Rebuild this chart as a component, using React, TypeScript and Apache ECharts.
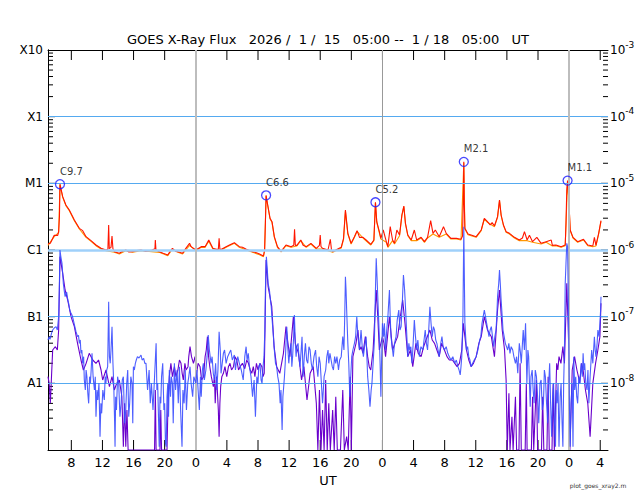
import React, { useEffect, useRef } from "react";
import * as echarts from "echarts";

// Hours since 2026-01-15 05:00 UT, value = log10(flux W/m^2)
const TITLE = "GOES X-Ray Flux   2026 /  1 /  15   05:00 --  1 / 18   05:00   UT";
const SPAN_HOURS = 72;

const xTickHours = [3, 7, 11, 15, 19, 23, 27, 31, 35, 39, 43, 47, 51, 55, 59, 63, 67, 71];
const xTickLabels = ["8", "12", "16", "20", "0", "4", "8", "12", "16", "20", "0", "4", "8", "12", "16", "20", "0", "4"];
const dayStartHours = [19, 43, 67];

const yDecades = [-9, -8, -7, -6, -5, -4, -3];
const yClassLabels = ["", "A1", "B1", "C1", "M1", "X1", "X10"];

const flareHours = [1.54, 28.04, 42.1, 53.46, 66.8];
const flareLog = [-5.013, -5.18, -5.284, -4.678, -4.959];
const flareNames = ["C9.7", "C6.6", "C5.2", "M2.1", "M1.1"];

// long channel (1-8 A), primary (red)
const longPrimary: [number, number][] = [
  [0, -5.91], [0.3, -5.9], [0.8, -5.78], [1.25, -5.78], [1.37, -5.72], [1.47, -5.5], [1.54, -5.013], [1.89, -5.2],
  [2.3, -5.325], [2.74, -5.4], [3.05, -5.47], [3.39, -5.55], [4.03, -5.675], [4.46, -5.71], [4.89, -5.8], [5.53, -5.86],
  [6.17, -5.925], [6.82, -5.975], [7.46, -6.0], [7.7, -5.99], [7.8, -5.625], [7.88, -5.98], [8.1, -5.96], [8.23, -5.79],
  [8.35, -5.98], [8.53, -6.025], [9.17, -6.05], [9.6, -6.02], [10.0, -6.0], [10.4, -6.03], [10.9, -6.025], [11.4, -6.01],
  [11.96, -6.0], [12.5, -6.02], [13.0, -6.01], [13.4, -6.0], [13.75, -5.98], [13.8, -5.85], [13.88, -6.0], [14.3, -6.025],
  [14.8, -6.05], [15.4, -6.075], [15.7, -6.02], [16.0, -5.975], [16.4, -6.02], [16.7, -6.025], [17.3, -6.05], [17.7, -5.98],
  [18.2, -5.9], [18.4, -5.95], [19.0, -6.0], [19.7, -5.95], [20.2, -5.95], [20.67, -5.85], [21.2, -5.975], [21.6, -5.99],
  [21.9, -5.99], [22.0, -5.825], [22.1, -5.99], [22.3, -5.99], [22.9, -5.95], [23.4, -5.92], [23.96, -5.89], [24.6, -5.95],
  [25.0, -5.96], [25.5, -5.99], [26.3, -6.025], [26.8, -6.04], [27.2, -6.06], [27.7, -6.09], [27.85, -6.0], [27.95, -5.6],
  [28.04, -5.18], [28.25, -5.325], [28.55, -5.525], [28.8, -5.575], [29.1, -5.8], [29.5, -5.95], [29.97, -6.02], [30.3, -5.97],
  [30.6, -5.925], [31.25, -5.95], [31.6, -5.93], [31.7, -5.69], [31.8, -5.93], [32.0, -5.93], [32.5, -5.85], [32.8, -5.93],
  [33.2, -5.95], [33.8, -5.9], [34.5, -5.975], [34.9, -5.93], [35.0, -5.775], [35.1, -5.95], [35.3, -5.975], [36.0, -6.0],
  [36.3, -5.84], [36.45, -6.0], [36.6, -6.025], [37.0, -6.0], [37.7, -5.96], [38.0, -5.825], [38.24, -5.4], [38.55, -5.75],
  [38.97, -5.9], [39.4, -5.8], [39.74, -5.71], [40.05, -5.81], [40.5, -5.81], [40.9, -5.85], [41.5, -5.915], [41.9, -5.85],
  [42.1, -5.284], [42.27, -5.575], [42.6, -5.725], [42.8, -5.825], [43.1, -5.7], [43.5, -5.875], [43.7, -5.95], [44.0, -5.65],
  [44.3, -5.85], [44.55, -5.9], [44.85, -5.7], [45.2, -5.775], [45.5, -5.475], [45.75, -5.34], [45.96, -5.6], [46.26, -5.775],
  [46.7, -5.85], [47.1, -5.7], [47.4, -5.85], [47.97, -5.81], [48.4, -5.875], [48.8, -5.81], [49.2, -5.56], [49.5, -5.75],
  [49.8, -5.7], [50.3, -5.8], [50.85, -5.65], [51.2, -5.75], [51.8, -5.825], [52.5, -5.825], [53.1, -5.84], [53.3, -5.79],
  [53.4, -5.2], [53.46, -4.678], [53.52, -5.3], [53.6, -5.675], [54.0, -5.76], [54.4, -5.775], [55.05, -5.8], [55.7, -5.7],
  [56.1, -5.525], [56.5, -5.575], [56.85, -5.625], [57.1, -5.59], [57.4, -5.64], [57.8, -5.5], [58.05, -5.25], [58.26, -5.475],
  [58.56, -5.625], [58.9, -5.725], [59.33, -5.75], [59.97, -5.81], [60.6, -5.85], [61.0, -5.82], [61.26, -5.725], [61.6, -5.85],
  [61.9, -5.78], [62.3, -5.875], [62.85, -5.81], [63.4, -5.9], [64.05, -5.875], [64.7, -5.85], [64.85, -5.93], [65.3, -5.925],
  [65.97, -5.95], [66.5, -5.925], [66.6, -5.6], [66.7, -5.1], [66.8, -4.959], [66.97, -5.25], [67.14, -5.7], [67.5, -5.81],
  [68.1, -5.875], [68.85, -5.84], [69.4, -5.925], [70.05, -5.94], [70.25, -5.81], [70.45, -5.93], [70.8, -5.75], [71.1, -5.56],
];

// long channel, secondary (orange)
const longSecondary: [number, number][] = [
  [0, -5.93], [0.8, -5.8], [1.37, -5.74], [1.54, -5.02], [1.89, -5.21], [2.3, -5.335], [2.74, -5.41], [3.39, -5.56],
  [4.03, -5.685], [4.89, -5.81], [5.53, -5.87], [6.17, -5.935], [6.82, -5.985], [7.46, -6.01], [8.53, -6.035], [9.17, -6.06],
  [10.0, -6.01], [10.9, -6.035], [11.96, -6.01], [13.0, -6.02], [14.3, -6.035], [15.4, -6.085], [16.0, -5.985], [16.7, -6.035],
  [17.3, -6.06], [18.2, -5.93], [19.0, -6.01], [19.7, -5.96], [20.2, -5.96], [20.67, -5.87], [21.2, -5.985], [22.3, -6.0],
  [22.9, -5.96], [23.96, -5.9], [24.6, -5.96], [25.5, -6.0], [26.3, -6.035], [27.2, -6.07], [27.7, -6.1], [27.85, -6.01],
  [28.04, -5.19], [28.25, -5.335], [28.55, -5.535], [28.8, -5.585], [29.1, -5.81], [29.5, -5.96], [29.97, -6.03], [30.6, -5.935],
  [31.25, -5.96], [32.0, -5.94], [32.5, -5.86], [33.2, -5.96], [33.8, -5.91], [34.5, -5.985], [35.3, -5.985], [36.0, -6.01],
  [36.6, -6.035], [37.0, -6.01], [37.7, -5.97], [38.0, -5.84], [38.24, -5.42], [38.55, -5.76], [38.97, -5.91], [39.4, -5.81],
  [39.74, -5.72], [40.5, -5.82], [41.5, -5.925], [41.9, -5.86], [42.1, -5.29], [42.27, -5.585], [42.8, -5.835], [43.5, -5.885],
  [43.7, -5.96], [44.3, -5.86], [44.55, -5.91], [45.2, -5.785], [45.5, -5.485], [45.75, -5.35], [45.96, -5.61], [46.26, -5.785],
  [46.7, -5.86], [47.4, -5.86], [47.97, -5.82], [48.4, -5.885], [48.8, -5.82], [49.5, -5.76], [50.3, -5.81], [51.2, -5.76],
  [51.8, -5.835], [52.5, -5.835], [53.1, -5.85], [53.46, -4.69], [53.6, -5.685], [54.0, -5.77], [54.4, -5.785], [55.05, -5.81],
  [55.7, -5.71], [56.1, -5.535], [56.5, -5.585], [57.4, -5.65], [57.8, -5.51], [58.05, -5.26], [58.26, -5.485], [58.56, -5.635],
  [58.9, -5.735], [59.33, -5.76], [59.97, -5.82], [60.6, -5.86], [61.6, -5.86], [62.3, -5.885], [63.4, -5.91], [64.05, -5.885],
  [64.85, -5.94], [65.3, -5.935], [65.97, -5.96], [66.5, -5.935], [66.8, -4.97], [66.97, -5.26], [67.14, -5.71], [67.5, -5.82],
  [68.1, -5.885], [68.85, -5.85], [69.4, -5.935], [70.05, -5.95], [70.45, -5.94], [70.8, -5.76], [71.1, -5.57],
];

// short channel (0.5-4 A), primary (blue)
const shortPrimary: [number, number][] = [
  [0, -7.35], [0.15, -7.3], [0.26, -7.34], [0.45, -7.25], [0.6, -7.2], [0.8, -7.17], [1.03, -7.15], [1.2, -7.2],
  [1.37, -7.0], [1.45, -6.6], [1.54, -6.0], [1.65, -6.1], [1.8, -6.2], [1.97, -6.5], [2.1, -6.62], [2.2, -6.7],
  [2.4, -6.63], [2.55, -6.75], [2.66, -6.8], [2.8, -6.9], [2.96, -6.95], [3.1, -6.98], [3.26, -7.05], [3.45, -7.15],
  [3.6, -7.225], [3.8, -7.3], [3.92, -7.28], [4.03, -7.4], [4.15, -7.35], [4.24, -7.55], [4.35, -7.5], [4.46, -7.7],
  [4.58, -7.6], [4.67, -7.95], [4.8, -8.1], [4.9, -7.8], [5.0, -7.9], [5.12, -8.15], [5.23, -8.3], [5.35, -7.9],
  [5.45, -8.0], [5.55, -7.8], [5.66, -7.55], [5.8, -7.9], [5.97, -8.1], [6.08, -7.9], [6.17, -8.5], [6.3, -8.1],
  [6.4, -8.25], [6.55, -8.0], [6.69, -8.8], [6.8, -8.3], [6.9, -8.45], [7.05, -8.1], [7.24, -8.25], [7.35, -7.9],
  [7.45, -8.0], [7.55, -7.8], [7.67, -7.75], [7.8, -6.775], [7.9, -7.6], [8.0, -7.7], [8.1, -7.5], [8.23, -7.15],
  [8.35, -7.7], [8.45, -8.0], [8.55, -8.5], [8.62, -8.95], [8.7, -8.2], [8.8, -8.4], [8.95, -7.9], [9.09, -8.0],
  [9.25, -8.5], [9.4, -8.3], [9.55, -7.95], [9.69, -7.9], [9.85, -8.6], [10.0, -8.4], [10.12, -8.0], [10.25, -7.8],
  [10.38, -8.5], [10.5, -8.3], [10.65, -7.9], [10.8, -8.0], [10.9, -8.6], [10.98, -7.75], [11.1, -7.8], [11.23, -7.7],
  [11.35, -7.65], [11.5, -7.6], [11.7, -7.62], [11.96, -7.575], [12.1, -7.65], [12.3, -7.625], [12.45, -7.7], [12.6, -7.7],
  [12.8, -8.1], [13.0, -7.8], [13.15, -8.3], [13.3, -8.0], [13.5, -8.4], [13.7, -7.9], [13.9, -7.4], [14.0, -8.1],
  [14.1, -8.0], [14.3, -8.95], [14.4, -8.2], [14.5, -8.3], [14.6, -7.9], [14.75, -7.7], [14.9, -8.4], [15.0, -8.3],
  [15.1, -8.9], [15.2, -8.95], [15.3, -8.2], [15.4, -8.0], [15.5, -8.5], [15.6, -7.8], [15.75, -8.2], [15.85, -7.9],
  [16.0, -8.0], [16.1, -8.6], [16.25, -7.7], [16.4, -8.1], [16.6, -7.8], [16.75, -8.3], [16.9, -7.75], [17.05, -8.4],
  [17.23, -8.95], [17.35, -8.1], [17.5, -8.3], [17.65, -7.8], [17.8, -8.4], [17.97, -8.0], [18.1, -7.9], [18.26, -7.75],
  [18.4, -8.0], [18.6, -8.2], [18.75, -7.9], [19.0, -8.0], [19.15, -7.8], [19.3, -8.1], [19.46, -8.4], [19.6, -7.9],
  [19.7, -8.2], [19.85, -7.8], [19.97, -7.7], [20.1, -7.95], [20.3, -7.8], [20.45, -7.6], [20.6, -7.275], [20.75, -7.5],
  [20.96, -7.7], [21.1, -7.6], [21.25, -7.85], [21.4, -7.95], [21.55, -7.7], [21.7, -8.1], [21.85, -7.8], [22.0, -7.225],
  [22.15, -7.5], [22.25, -7.85], [22.4, -7.7], [22.55, -7.55], [22.7, -7.5], [22.9, -7.7], [23.1, -7.6], [23.3, -7.55],
  [23.5, -7.5], [23.7, -7.65], [23.96, -7.575], [24.1, -7.8], [24.2, -7.7], [24.4, -7.6], [24.6, -7.7], [24.85, -7.8],
  [25.1, -7.95], [25.3, -7.6], [25.47, -7.45], [25.6, -7.65], [25.75, -7.55], [25.9, -7.75], [26.1, -7.9], [26.3, -8.2],
  [26.5, -7.95], [26.67, -8.5], [26.85, -7.9], [27.0, -8.0], [27.1, -7.75], [27.25, -7.7], [27.4, -7.95], [27.52, -8.0],
  [27.65, -7.75], [27.77, -7.6], [27.88, -7.2], [27.95, -6.6], [28.08, -6.1], [28.2, -6.3], [28.3, -6.5], [28.47, -6.6],
  [28.6, -6.75], [28.7, -6.85], [28.85, -7.1], [28.98, -7.3], [29.1, -7.5], [29.25, -7.7], [29.4, -7.75], [29.54, -7.9],
  [29.7, -8.0], [29.85, -8.3], [29.95, -8.1], [30.1, -8.7], [30.2, -8.2], [30.27, -8.1], [30.4, -7.9], [30.5, -7.7],
  [30.6, -7.4], [30.7, -7.15], [30.85, -7.5], [30.96, -7.7], [31.1, -7.5], [31.25, -7.4], [31.35, -7.75], [31.45, -7.6],
  [31.58, -7.3], [31.68, -6.975], [31.8, -7.4], [31.9, -7.6], [32.0, -7.45], [32.15, -7.4], [32.3, -7.65], [32.4, -7.75],
  [32.55, -7.5], [32.66, -7.3], [32.8, -7.9], [32.95, -7.6], [33.1, -7.4], [33.25, -7.65], [33.4, -7.7], [33.55, -7.45],
  [33.7, -7.5], [33.85, -7.7], [34.0, -7.8], [34.2, -7.6], [34.4, -7.5], [34.55, -7.75], [34.7, -7.9], [34.85, -7.6],
  [35.0, -7.7], [35.15, -8.0], [35.3, -8.3], [35.5, -7.9], [35.7, -7.8], [35.85, -7.6], [36.0, -7.5], [36.1, -7.7],
  [36.25, -7.55], [36.4, -7.65], [36.55, -7.75], [36.7, -7.8], [36.85, -7.6], [37.0, -7.7], [37.15, -7.6], [37.35, -7.8],
  [37.5, -7.65], [37.7, -7.6], [37.8, -7.45], [37.9, -7.3], [38.05, -7.5], [38.15, -7.0], [38.24, -6.4], [38.32, -6.6],
  [38.4, -6.9], [38.55, -7.4], [38.67, -7.7], [38.8, -8.2], [38.92, -7.9], [39.05, -7.6], [39.2, -7.5], [39.4, -7.4],
  [39.55, -7.3], [39.7, -7.0], [39.85, -7.3], [40.05, -7.5], [40.15, -7.35], [40.25, -7.2], [40.4, -7.45], [40.55, -7.6],
  [40.7, -7.45], [40.9, -7.3], [41.0, -7.6], [41.1, -7.9], [41.25, -8.1], [41.4, -8.35], [41.55, -8.1], [41.65, -8.0],
  [41.8, -7.7], [41.97, -7.35], [42.1, -6.6], [42.2, -6.125], [42.3, -6.4], [42.4, -6.7], [42.5, -7.0], [42.6, -7.3],
  [42.7, -7.7], [42.8, -8.2], [42.9, -7.6], [43.0, -7.1], [43.15, -7.3], [43.25, -7.1], [43.4, -7.5], [43.55, -7.2],
  [43.7, -7.0], [43.8, -6.8], [43.9, -6.6], [44.0, -7.0], [44.1, -7.3], [44.25, -7.45], [44.4, -7.6], [44.55, -7.4],
  [44.75, -7.3], [44.9, -7.05], [45.1, -6.9], [45.25, -7.2], [45.4, -7.15], [45.55, -6.8], [45.7, -6.375], [45.85, -6.6],
  [45.96, -6.85], [46.1, -7.2], [46.26, -7.6], [46.4, -7.4], [46.5, -7.5], [46.65, -7.45], [46.8, -7.7], [46.95, -7.4],
  [47.1, -7.05], [47.25, -7.3], [47.4, -7.5], [47.55, -7.35], [47.75, -7.6], [47.95, -7.45], [48.2, -7.5], [48.35, -7.35],
  [48.5, -7.2], [48.65, -7.4], [48.8, -7.5], [48.95, -7.2], [49.1, -6.85], [49.25, -7.1], [49.4, -7.3], [49.55, -7.15],
  [49.7, -7.2], [49.85, -7.35], [50.0, -7.4], [50.15, -7.5], [50.3, -7.6], [50.5, -7.4], [50.65, -7.3], [50.8, -7.45],
  [50.97, -7.5], [51.2, -7.45], [51.4, -7.55], [51.6, -7.6], [51.8, -7.65], [52.05, -7.6], [52.3, -7.7], [52.5, -7.65],
  [52.7, -7.75], [52.85, -7.8], [53.0, -7.875], [53.1, -7.75], [53.2, -7.6], [53.35, -7.0], [53.46, -5.65], [53.55, -6.6],
  [53.6, -7.1], [53.7, -7.3], [53.8, -7.5], [53.95, -7.45], [54.1, -7.6], [54.25, -7.65], [54.4, -7.75], [54.6, -7.7],
  [54.8, -7.65], [55.05, -7.6], [55.27, -7.5], [55.5, -7.35], [55.65, -7.3], [55.8, -7.1], [55.95, -7.0], [56.1, -6.9],
  [56.25, -7.0], [56.4, -7.1], [56.55, -7.2], [56.7, -7.3], [56.85, -7.2], [57.0, -7.15], [57.15, -7.3], [57.3, -7.45],
  [57.45, -7.3], [57.6, -7.2], [57.7, -7.0], [57.8, -6.7], [57.95, -6.5], [58.05, -6.3], [58.15, -6.5], [58.26, -6.75],
  [58.4, -7.0], [58.5, -7.2], [58.65, -7.3], [58.8, -7.4], [58.95, -7.45], [59.1, -7.5], [59.25, -7.4], [59.4, -7.55],
  [59.55, -7.45], [59.75, -7.5], [59.9, -7.6], [60.1, -7.7], [60.25, -7.6], [60.4, -7.85], [60.5, -7.6], [60.6, -7.4],
  [60.75, -7.55], [60.85, -7.7], [61.0, -7.4], [61.1, -7.2], [61.25, -7.5], [61.4, -7.1], [61.5, -7.6], [61.57, -8.0],
  [61.7, -7.5], [61.8, -7.6], [61.9, -8.0], [62.0, -8.35], [62.1, -7.9], [62.25, -7.8], [62.38, -8.1], [62.5, -8.3],
  [62.65, -7.8], [62.8, -7.9], [62.95, -8.2], [63.1, -8.6], [63.25, -8.0], [63.4, -7.95], [63.55, -8.4], [63.7, -8.3],
  [63.82, -7.8], [63.95, -7.9], [64.1, -8.3], [64.25, -8.6], [64.38, -8.0], [64.5, -7.7], [64.62, -8.3], [64.75, -8.8],
  [64.88, -8.2], [65.0, -8.0], [65.12, -8.6], [65.25, -8.95], [65.35, -8.1], [65.45, -8.3], [65.58, -8.0], [65.7, -8.95],
  [65.85, -8.2], [65.97, -8.0], [66.1, -8.6], [66.2, -8.95], [66.3, -8.0], [66.4, -7.5], [66.5, -6.5], [66.6, -6.2],
  [66.7, -5.9], [66.8, -5.95], [66.88, -6.6], [66.97, -7.5], [67.05, -8.4], [67.14, -8.95], [67.25, -8.3], [67.4, -8.0],
  [67.5, -8.95], [67.6, -7.6], [67.72, -8.1], [67.85, -7.9], [67.98, -8.2], [68.1, -8.3], [68.25, -7.9], [68.4, -8.0],
  [68.55, -7.7], [68.7, -7.9], [68.8, -7.55], [68.9, -7.8], [69.0, -7.7], [69.15, -8.0], [69.3, -8.1], [69.42, -7.8],
  [69.54, -8.3], [69.7, -7.9], [69.9, -7.5], [70.05, -7.7], [70.25, -7.3], [70.35, -7.5], [70.45, -7.6], [70.6, -7.4],
  [70.7, -7.2], [70.85, -7.3], [70.96, -7.1], [71.05, -6.9], [71.1, -6.7],
];

// short channel, secondary (purple)
const shortSecondary: [number, number][] = [
  [0, -7.9], [0.15, -8.0], [0.3, -8.3], [0.6, -7.5], [0.95, -7.45], [1.2, -7.5], [1.37, -7.2], [1.54, -6.1],
  [1.89, -6.35], [2.2, -6.6], [2.53, -6.75], [2.96, -7.0], [3.39, -7.15], [3.8, -7.4], [4.24, -7.65], [4.55, -7.8],
  [4.9, -7.7], [5.3, -7.55], [5.75, -7.65], [6.17, -7.7], [6.5, -7.65], [6.82, -7.8], [7.03, -7.95], [7.46, -7.8],
  [7.9, -8.05], [8.23, -7.9], [8.53, -8.1], [8.83, -8.0], [9.17, -7.95], [9.5, -8.2], [9.69, -8.95], [9.85, -8.3],
  [10.0, -8.95], [10.15, -8.4], [10.3, -9.0], [13.7, -9.0], [13.8, -8.1], [13.9, -9.0], [14.4, -9.0], [14.5, -8.4],
  [14.6, -9.0], [15.3, -9.0], [15.45, -8.2], [15.6, -7.9], [15.8, -7.7], [16.0, -7.9], [16.25, -7.75], [16.45, -7.9],
  [16.7, -7.8], [16.9, -7.65], [17.1, -7.7], [17.25, -7.85], [17.4, -7.95], [17.6, -7.7], [17.75, -7.8], [18.0, -7.75],
  [18.1, -7.6], [18.26, -7.45], [18.45, -7.6], [18.7, -7.7], [18.9, -7.6], [19.1, -7.85], [19.3, -7.7], [19.55, -7.75],
  [19.75, -7.95], [20.0, -7.9], [20.2, -7.6], [20.35, -7.5], [20.5, -7.3], [20.65, -7.6], [20.8, -7.75], [21.0, -7.9],
  [21.26, -8.05], [21.4, -7.9], [21.5, -8.3], [21.65, -7.9], [21.75, -8.05], [21.9, -8.4], [22.0, -8.8], [22.1, -8.3],
  [22.2, -8.05], [22.35, -7.9], [22.55, -7.85], [22.75, -7.75], [22.98, -7.9], [23.2, -7.75], [23.4, -7.7], [23.6, -7.8],
  [23.85, -7.75], [24.05, -7.6], [24.27, -7.65], [24.5, -7.8], [24.7, -7.75], [25.0, -7.7], [25.3, -7.78], [25.55, -7.65],
  [25.77, -7.7], [26.0, -7.8], [26.2, -7.85], [26.4, -7.75], [26.6, -7.9], [26.8, -7.7], [27.0, -7.8], [27.25, -7.7],
  [27.5, -7.75], [27.65, -7.9], [27.8, -7.85], [27.9, -7.2], [28.04, -6.15], [28.3, -6.55], [28.77, -6.85], [29.07, -7.45],
  [29.4, -7.75], [29.8, -7.85], [30.27, -7.55], [30.6, -7.15], [30.85, -7.4], [31.1, -7.6], [31.55, -7.0], [31.8, -7.4],
  [32.2, -7.55], [32.6, -7.95], [32.9, -7.75], [33.3, -8.25], [33.7, -7.85], [34.1, -7.75], [34.5, -8.3], [34.7, -9.0],
  [34.9, -8.1], [35.1, -9.0], [35.3, -8.4], [35.5, -9.0], [35.7, -7.95], [35.9, -9.0], [36.1, -8.3], [36.3, -9.0],
  [36.6, -8.4], [36.8, -9.0], [37.0, -8.2], [37.2, -9.0], [37.6, -9.0], [37.9, -8.1], [38.1, -9.0], [38.4, -8.8],
  [38.6, -9.0], [38.85, -7.9], [39.0, -9.0], [39.2, -7.6], [39.4, -7.5], [39.6, -7.4], [39.85, -7.2], [40.05, -7.5],
  [40.25, -7.45], [40.5, -7.55], [40.8, -7.3], [41.1, -7.6], [41.3, -7.75], [41.5, -7.8], [41.8, -7.5], [42.2, -6.6],
  [42.4, -7.0], [42.6, -7.5], [43.0, -7.3], [43.2, -7.4], [43.4, -7.6], [43.9, -7.0], [44.3, -7.5], [44.6, -7.4],
  [44.95, -7.3], [45.6, -6.75], [45.9, -7.1], [46.26, -7.6], [46.6, -7.5], [46.9, -7.75], [47.3, -7.4], [47.6, -7.55],
  [47.97, -7.6], [48.3, -7.45], [48.6, -7.35], [49.1, -7.2], [49.4, -7.35], [49.7, -7.4], [50.0, -7.5], [50.3, -7.6],
  [50.6, -7.4], [50.97, -7.5], [51.3, -7.6], [51.6, -7.65], [52.0, -7.65], [52.3, -7.7], [52.6, -7.75], [52.9, -7.7],
  [53.2, -7.5], [53.4, -7.1], [53.8, -7.5], [54.1, -7.65], [54.4, -7.75], [54.7, -7.7], [55.05, -7.6], [55.4, -7.4],
  [55.7, -7.3], [56.1, -7.0], [56.5, -7.2], [57.0, -7.3], [57.2, -7.45], [57.4, -7.6], [57.8, -6.9], [58.05, -6.6],
  [58.4, -7.2], [58.7, -7.5], [58.9, -7.95], [59.05, -9.0], [59.26, -8.15], [59.4, -9.0], [59.65, -8.5], [59.8, -9.0],
  [60.1, -8.2], [60.25, -9.0], [60.55, -9.0], [60.7, -7.7], [60.85, -9.0], [61.35, -9.0], [61.5, -8.0], [61.6, -9.0],
  [62.15, -9.0], [62.3, -8.2], [62.45, -9.0], [62.8, -7.95], [62.95, -9.0], [63.45, -9.0], [63.6, -8.2], [63.75, -9.0],
  [64.15, -9.0], [64.3, -7.9], [64.45, -9.0], [64.8, -9.0], [64.95, -8.0], [65.1, -9.0], [65.4, -7.7], [65.55, -7.8],
  [65.7, -7.6], [65.95, -7.7], [66.2, -7.45], [66.4, -7.7], [66.7, -6.5], [66.97, -7.5], [67.1, -9.0], [67.4, -7.8],
  [67.7, -7.6], [68.0, -7.8], [68.2, -7.9], [68.35, -8.0], [68.6, -7.7], [68.8, -7.8], [69.1, -8.1], [69.4, -8.3],
  [69.7, -8.8], [70.05, -8.0], [70.4, -7.7], [70.7, -7.5], [70.96, -7.3], [71.1, -6.8],
];

const FONT = "'DejaVu Sans', 'Liberation Sans', Arial, sans-serif";

export default function App() {
  const ref = useRef<HTMLDivElement>(null);

  useEffect(() => {
    if (!ref.current) return;
    const chart = echarts.init(ref.current, undefined, { renderer: "svg" });

    // tick marks (axis decoration): log-decade minor ticks (len 5) and decade ticks (len 7)
    const yTickMarks: number[][] = [];
    for (let n = -9; n < -3; n++) {
      if (n > -9) yTickMarks.push([0, n, 7]);
      for (let k = 2; k <= 9; k++) yTickMarks.push([0, n + Math.log10(k), 5]);
    }
    const xTickMarks = xTickHours.map((h) => [h, -9]);

    const flareData = flareHours.map((h, i) => ({ value: [h, flareLog[i]], name: flareNames[i] }));

    const hLines = yDecades
      .filter((d) => d > -9 && d < -3)
      .map((d) =>
        d === -6
          ? { yAxis: d, lineStyle: { color: "#9fd0fa", width: 2.5, type: "solid" } }
          : { yAxis: d, lineStyle: { color: "#55aaf0", width: 1, type: "solid" } }
      );
    const vLines = dayStartHours.map((h, i) => ({
      xAxis: h,
      lineStyle: i === 1 ? { color: "#999999", width: 1, type: "solid" } : { color: "#bdbdbd", width: 2, type: "solid" },
    }));

    const lineBase = {
      type: "line",
      showSymbol: false,
      symbol: "none",
      clip: true,
      xAxisIndex: 0,
      yAxisIndex: 0,
    };

    const axisCommon = {
      axisLine: { show: true, lineStyle: { color: "#000", width: 1 } },
      axisTick: { show: false },
      splitLine: { show: false },
    };

    chart.setOption({
      animation: false,
      backgroundColor: "#ffffff",
      textStyle: { fontFamily: FONT },
      grid: { left: 48, right: 32, top: 50, bottom: 50, containLabel: false },
      graphic: [
        {
          type: "text",
          x: 328,
          y: 39,
          style: { text: TITLE, fontSize: 13, fontFamily: FONT, fill: "#000", align: "center", verticalAlign: "middle" },
        },
        {
          type: "text",
          x: 598,
          y: 485,
          style: { text: "plot_goes_xray2.m", fontSize: 6, fontFamily: FONT, fill: "#333", align: "center", verticalAlign: "middle" },
        },
      ],
      xAxis: [
        {
          ...axisCommon,
          type: "value",
          min: 0,
          max: SPAN_HOURS,
          position: "bottom",
          name: "UT",
          nameLocation: "middle",
          nameGap: 24,
          nameTextStyle: { fontSize: 13, color: "#000", fontFamily: FONT },
          axisLabel: {
            show: true,
            customValues: xTickHours,
            margin: 6,
            fontSize: 13,
            color: "#000",
            fontFamily: FONT,
            formatter: (v: number) => {
              const i = xTickHours.indexOf(Math.round(v));
              return i >= 0 ? xTickLabels[i] : "";
            },
          },
        },
        {
          ...axisCommon,
          type: "value",
          min: 0,
          max: SPAN_HOURS,
          position: "top",
          axisLabel: { show: false },
        },
      ],
      yAxis: [
        {
          ...axisCommon,
          type: "value",
          min: -9,
          max: -3,
          interval: 1,
          position: "left",
          axisLabel: {
            margin: 5,
            fontSize: 12,
            color: "#000",
            fontFamily: FONT,
            formatter: (v: number) => {
              const i = yDecades.indexOf(Math.round(v));
              return i >= 0 ? yClassLabels[i] : "";
            },
          },
        },
        {
          ...axisCommon,
          type: "value",
          min: -9,
          max: -3,
          interval: 1,
          position: "right",
          axisLabel: {
            margin: 2,
            color: "#000",
            fontFamily: FONT,
            formatter: (v: number) => (Math.round(v) === -9 ? "" : `{b|10}{s|${Math.round(v)}}`),
            rich: {
              b: { fontSize: 12, fontFamily: FONT, color: "#000", lineHeight: 20, verticalAlign: "middle" },
              s: { fontSize: 9, fontFamily: FONT, color: "#000", verticalAlign: "top", lineHeight: 12 },
            },
          },
        },
      ],
      series: [
        {
          type: "custom",
          name: "yTicks",
          xAxisIndex: 0,
          yAxisIndex: 0,
          z: 1,
          silent: true,
          clip: false,
          data: yTickMarks,
          renderItem: (_params: any, api: any) => {
            const v = api.value(1);
            const len = api.value(2);
            const l = api.coord([0, v]);
            const r = api.coord([SPAN_HOURS, v]);
            return {
              type: "group",
              children: [
                { type: "line", shape: { x1: l[0], y1: l[1], x2: l[0] + len, y2: l[1] }, style: { stroke: "#000", lineWidth: 1 } },
                { type: "line", shape: { x1: r[0], y1: r[1], x2: r[0] - len, y2: r[1] }, style: { stroke: "#000", lineWidth: 1 } },
              ],
            };
          },
          markLine: {
            silent: true,
            symbol: "none",
            label: { show: false },
            animation: false,
            data: [...hLines, ...vLines],
          },
        },
        {
          type: "custom",
          name: "xTicks",
          xAxisIndex: 0,
          yAxisIndex: 0,
          z: 1,
          silent: true,
          clip: false,
          data: xTickMarks,
          renderItem: (_params: any, api: any) => {
            const h = api.value(0);
            const b = api.coord([h, -9]);
            const t = api.coord([h, -3]);
            return {
              type: "group",
              children: [
                { type: "line", shape: { x1: b[0], y1: b[1], x2: b[0], y2: b[1] - 10 }, style: { stroke: "#000", lineWidth: 1 } },
                { type: "line", shape: { x1: t[0], y1: t[1], x2: t[0], y2: t[1] + 10 }, style: { stroke: "#000", lineWidth: 1 } },
              ],
            };
          },
        },
        { ...lineBase, name: "long-2", z: 2, data: longSecondary, lineStyle: { color: "#ff9900", width: 1.1 } },
        { ...lineBase, name: "long-1", z: 3, data: longPrimary, lineStyle: { color: "#ff1500", width: 1.1 } },
        { ...lineBase, name: "short-2", z: 4, data: shortSecondary, lineStyle: { color: "#6a00cc", width: 1.1 } },
        { ...lineBase, name: "short-1", z: 5, data: shortPrimary, lineStyle: { color: "#3a4dff", width: 1.1, opacity: 0.9 } },
        {
          type: "scatter",
          name: "flares",
          xAxisIndex: 0,
          yAxisIndex: 0,
          z: 10,
          symbol: "circle",
          symbolSize: 9,
          data: flareData,
          itemStyle: { color: "rgba(0,0,0,0)", borderColor: "#1a1aff", borderWidth: 1.3 },
          label: {
            show: true,
            position: "top",
            align: "left",
            distance: 3,
            fontSize: 10,
            color: "#000",
            fontFamily: FONT,
            formatter: (p: any) => p.name,
          },
        },
      ],
    });

    return () => chart.dispose();
  }, []);

  return (
    <div
      ref={ref}
      style={{ position: "fixed", left: 0, top: 0, width: 640, height: 500, background: "#fff" }}
    />
  );
}
